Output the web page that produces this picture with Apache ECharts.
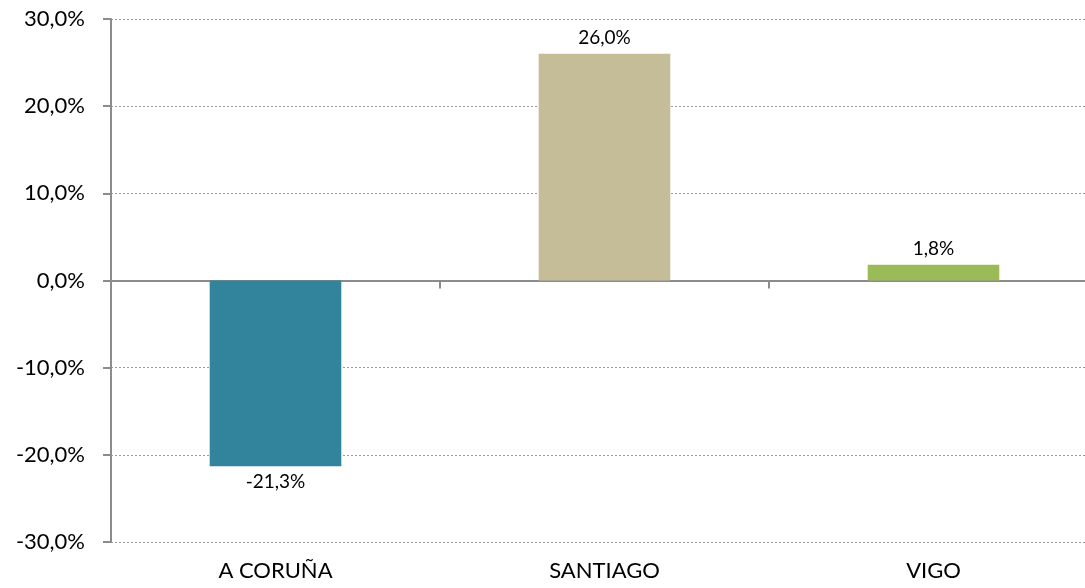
<!DOCTYPE html>
<html>
<head>
<meta charset="utf-8">
<script src="https://cdn.jsdelivr.net/npm/echarts@6/dist/echarts.min.js"></script>
<style>
html,body{margin:0;padding:0;background:#fff;overflow:hidden;}
#chart{width:1098px;height:588px;}
</style>
</head>
<body>
<div id="chart"></div>
<script>
const categories = ['A CORUÑA', 'SANTIAGO', 'VIGO'];
const values = [-21.3, 26.0, 1.8];
const barColors = ['#31849B', '#C4BD97', '#9BBB59'];
const yTicks = [-30, -20, -10, 0, 10, 20, 30];

const fmt = v => v.toFixed(1).replace('.', ',') + '%';
const FONT = 'Lato, "Open Sans", sans-serif';

const chart = echarts.init(document.getElementById('chart'));
chart.setOption({
  animation: false,
  grid: { left: 111, right: 0, top: 19, bottom: 46, containLabel: false },
  xAxis: [
    {
      type: 'category', data: categories, position: 'bottom',
      axisLine: { show: false, onZero: false }, axisTick: { show: false },
      axisLabel: { margin: 18, fontSize: 22, color: '#000', fontFamily: FONT },
      splitLine: { show: false }
    },
    {
      type: 'category', data: categories, position: 'bottom',
      axisLine: { show: true, onZero: true, lineStyle: { color: '#8c8c8c', width: 2 } },
      axisTick: { show: true, alignWithLabel: false, length: 8, lineStyle: { color: '#8c8c8c', width: 2 } },
      axisLabel: { show: false },
      splitLine: { show: false }
    }
  ],
  yAxis: {
    type: 'value', min: yTicks[0], max: yTicks[yTicks.length - 1], interval: 10,
    axisLine: { show: true, lineStyle: { color: '#8c8c8c', width: 2 } },
    axisTick: { show: true, length: 8, lineStyle: { color: '#8c8c8c', width: 2 } },
    axisLabel: { margin: 26, fontSize: 22, color: '#000', fontFamily: FONT, formatter: v => fmt(v) },
    splitLine: { show: true, lineStyle: { color: '#9a9a9a', type: [2, 2], width: 1 } }
  },
  series: [{
    type: 'bar', xAxisIndex: 0,
    barWidth: '40%',
    data: values.map((v, i) => ({
      value: v,
      itemStyle: { color: barColors[i] },
      label: { position: v < 0 ? 'bottom' : 'top' }
    })),
    label: {
      show: true, fontSize: 19, color: '#000', fontFamily: FONT, distance: 6,
      formatter: p => fmt(p.value)
    }
  }]
});
</script>
</body>
</html>
